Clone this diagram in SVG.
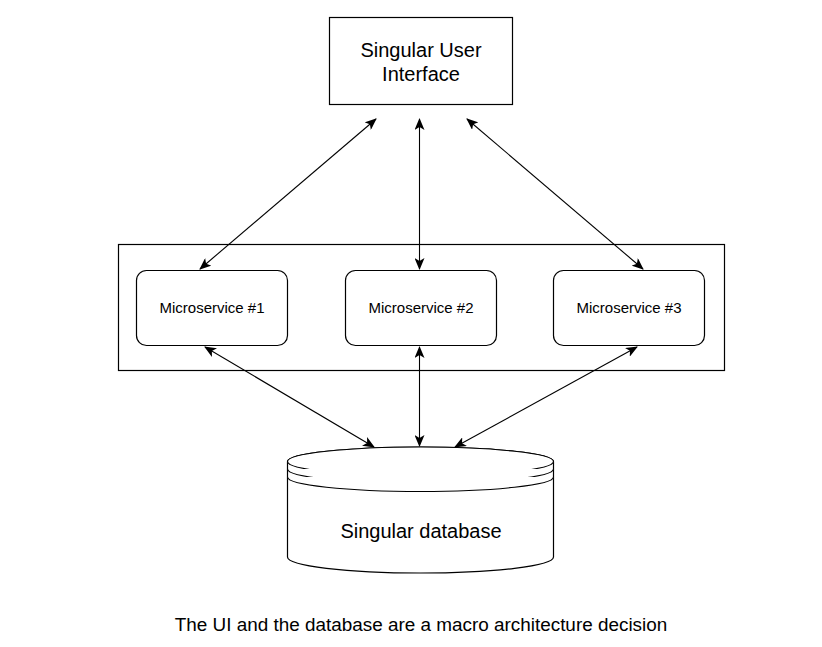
<svg xmlns="http://www.w3.org/2000/svg" width="822" height="647" viewBox="0 0 822 647">
<style>
.box{fill:#fff;stroke:#000;stroke-width:1.2}
.t{font-family:"Liberation Sans",Arial,sans-serif;fill:#000;text-anchor:middle}
.c{stroke:#000;stroke-width:1.1;fill:none;marker-start:url(#a);marker-end:url(#a)}
</style>
<defs>
<marker id="a" viewBox="0 0 12 10" refX="11" refY="5" markerWidth="12" markerHeight="10" markerUnits="userSpaceOnUse" orient="auto-start-reverse">
<path d="M0,0 L12,5 L0,10 L3,5 Z" fill="#000"/>
</marker>
</defs>
<rect width="822" height="647" fill="#fff"/>
<g id="ui">
<rect class="box" x="329.5" y="17.5" width="183" height="87"/>
<text class="t" x="421" y="57" font-size="20">Singular User</text>
<text class="t" x="421" y="81" font-size="20">Interface</text>
</g>
<g id="container">
<rect class="box" x="118.5" y="244.5" width="606" height="126"/>
</g>
<g id="ms1">
<rect class="box" x="136.5" y="270.5" width="151" height="75" rx="10"/>
<text class="t" x="212" y="313" font-size="15">Microservice #1</text>
</g>
<g id="ms2">
<rect class="box" x="345.5" y="270.5" width="151" height="75" rx="10"/>
<text class="t" x="421" y="313" font-size="15">Microservice #2</text>
</g>
<g id="ms3">
<rect class="box" x="553.5" y="270.5" width="151" height="75" rx="10"/>
<text class="t" x="629" y="313" font-size="15">Microservice #3</text>
</g>
<g id="db">
<path class="box" d="M287.5,461.5 L287.5,557 A133,16 0 0 0 553.5,557 L553.5,461.5 A133,14.5 0 0 0 287.5,461.5 Z"/>
<ellipse class="box" cx="420.5" cy="461.5" rx="133" ry="14.5"/>
<path class="box" fill="none" d="M287.5,469 A133,14.5 0 0 0 553.5,469"/>
<path class="box" fill="none" d="M287.5,477 A133,14.5 0 0 0 553.5,477"/>
<text class="t" x="421" y="538" font-size="20">Singular database</text>
</g>
<g id="connectors">
<line class="c" x1="376" y1="119" x2="200" y2="269"/>
<line class="c" x1="419.5" y1="119" x2="419.5" y2="269"/>
<line class="c" x1="467" y1="119" x2="643" y2="269"/>
<line class="c" x1="205" y1="347" x2="374" y2="447"/>
<line class="c" x1="419.5" y1="347" x2="419.5" y2="446"/>
<line class="c" x1="637" y1="347" x2="455" y2="447"/>
</g>
<text class="t" x="421" y="631" font-size="18.9">The UI and the database are a macro architecture decision</text>
</svg>
